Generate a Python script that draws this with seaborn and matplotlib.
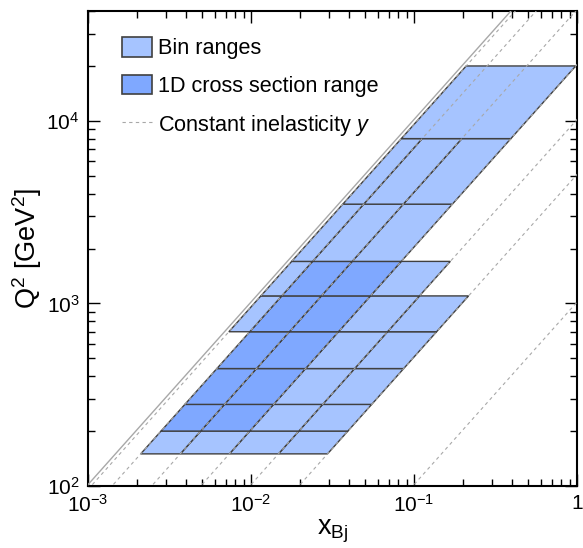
import numpy as np
import matplotlib
matplotlib.use("Agg")
import matplotlib.pyplot as plt
from matplotlib.patches import Polygon, Patch
from matplotlib.lines import Line2D
from matplotlib.ticker import FuncFormatter, LogLocator, NullFormatter
import seaborn as sns

sns.set_theme(style="ticks", rc={"text.color": "black", "axes.labelcolor": "black",
                                 "xtick.color": "black", "ytick.color": "black",
                                 "axes.edgecolor": "black"})
plt.rcParams['font.family'] = ['Liberation Sans', 'DejaVu Sans']
plt.rcParams['mathtext.fontset'] = 'custom'
plt.rcParams['mathtext.rm'] = 'Liberation Sans'
plt.rcParams['mathtext.it'] = 'Liberation Sans:italic'
plt.rcParams['mathtext.bf'] = 'Liberation Sans:bold'

# centre-of-mass energy squared, sqrt(s) = 319 GeV
s = 319.0 ** 2

# Q2 bin edges and the y edges used inside each Q2 bin
q2_edges = [150, 200, 280, 440, 700, 1100, 1700, 3500, 8000, 20000]
y_edges = [
    [0.05, 0.1, 0.2, 0.4, 0.7],         # 150 - 200
    [0.05, 0.1, 0.2, 0.4, 0.7],         # 200 - 280
    [0.05, 0.1, 0.2, 0.4, 0.7],         # 280 - 440
    [0.05, 0.1, 0.2, 0.4, 0.7],         # 440 - 700
    [0.05, 0.1, 0.2, 0.4, 0.7, 0.94],   # 700 - 1100
    [0.1, 0.2, 0.4, 0.7, 0.94],         # 1100 - 1700
    [0.2, 0.4, 0.7, 0.94],              # 1700 - 3500
    [0.2, 0.4, 0.7, 0.94],              # 3500 - 8000
    [0.2, 0.94],                        # 8000 - 20000
]

# range of the 1D cross section
q2_1d = (200, 1700)
y_1d = (0.2, 0.7)

# lines of constant inelasticity
y_dashed = [0.94, 0.7, 0.4, 0.2, 0.1, 0.05, 0.01]
y_limit = 1.0

light = "#a6c4ff"
dark = "#7fa8ff"
edge = "#404040"
line_grey = "#a8a8a8"

fig = plt.figure(figsize=(5.83, 5.48), dpi=100)
ax = fig.add_axes([0.1509, 0.1131, 0.8388, 0.8668])
ax.set_xscale("log")
ax.set_yscale("log")

# bins: parallelograms bounded by Q2 = const and y = const
for i in range(len(q2_edges) - 1):
    qlo, qhi = q2_edges[i], q2_edges[i + 1]
    ys = y_edges[i]
    for j in range(len(ys) - 1):
        ylo, yhi = ys[j], ys[j + 1]
        corners = [(qlo / (s * yhi), qlo), (qlo / (s * ylo), qlo),
                   (qhi / (s * ylo), qhi), (qhi / (s * yhi), qhi)]
        in_1d = (qlo >= q2_1d[0] and qhi <= q2_1d[1]
                 and ylo >= y_1d[0] and yhi <= y_1d[1])
        ax.add_patch(Polygon(corners, closed=True,
                             facecolor=dark if in_1d else light,
                             edgecolor=edge, lw=1.0, zorder=2))

xs = np.logspace(-3.3, 0.2, 60)
sns.lineplot(x=xs, y=s * xs * y_limit, ax=ax, color=line_grey, lw=1.0, zorder=3)
for yv in y_dashed:
    sns.lineplot(x=xs, y=s * xs * yv, ax=ax, color=line_grey, lw=0.8,
                 linestyle=(0, (3, 3)), zorder=3)

ax.set_xlim(1e-3, 1)
ax.set_ylim(1e2, 4e4)

ax.xaxis.set_major_locator(LogLocator(base=10, numticks=10))
ax.yaxis.set_major_locator(LogLocator(base=10, numticks=10))
ax.xaxis.set_minor_locator(LogLocator(base=10, subs=np.arange(2, 10), numticks=10))
ax.yaxis.set_minor_locator(LogLocator(base=10, subs=np.arange(2, 10), numticks=10))
ax.xaxis.set_major_formatter(FuncFormatter(
    lambda v, p: "1" if abs(v - 1) < 1e-9 else r"$10^{%d}$" % round(np.log10(v))))
ax.yaxis.set_major_formatter(FuncFormatter(
    lambda v, p: r"$10^{%d}$" % round(np.log10(v))))
ax.xaxis.set_minor_formatter(NullFormatter())
ax.yaxis.set_minor_formatter(NullFormatter())

ax.tick_params(which="both", direction="in", top=True, right=True,
               labelsize=15, pad=6, width=1.0)
ax.tick_params(which="major", length=8.5)
ax.tick_params(which="minor", length=5)
for sp in ax.spines.values():
    sp.set_linewidth(1.5)

ax.set_xlabel(r"x$_{\rm Bj}$", fontsize=19.5, labelpad=1)
ax.set_ylabel(r"Q$^{2}$ [GeV$^{2}$]", fontsize=19.5, labelpad=2)

handles = [
    Patch(facecolor=light, edgecolor=edge, lw=1.2, label="Bin ranges"),
    Patch(facecolor=dark, edgecolor=edge, lw=1.2, label="1D cross section range"),
    Line2D([], [], color=line_grey, lw=0.8, linestyle=(0, (3, 3)),
           label=r"Constant inelasticity $y$"),
]
ax.legend(handles=handles, loc="upper left", bbox_to_anchor=(0.0695, 0.945),
          borderaxespad=0, borderpad=0, frameon=False, fontsize=15.6,
          handlelength=1.4, handleheight=1.0, handletextpad=0.28,
          labelspacing=0.72)

fig.savefig("out.png", dpi=100)
